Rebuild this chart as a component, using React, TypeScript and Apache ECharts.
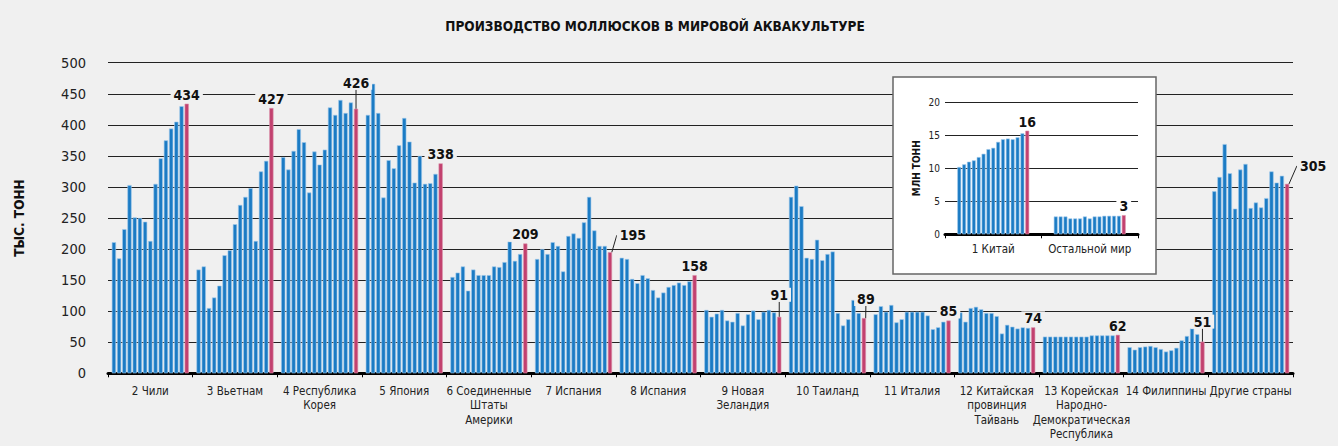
import React, { useEffect, useRef } from "react";
import * as echarts from "echarts";

const title = "ПРОИЗВОДСТВО МОЛЛЮСКОВ В МИРОВОЙ АКВАКУЛЬТУРЕ";
const yName = "ТЫС. ТОНН";
const insetYName = "МЛН ТОНН";

const categories = [
  "2 Чили",
  "3 Вьетнам",
  "4 Республика\nКорея",
  "5 Япония",
  "6 Соединенные\nШтаты\nАмерики",
  "7 Испания",
  "8 Испания",
  "9 Новая\nЗеландия",
  "10 Таиланд",
  "11 Италия",
  "12 Китайская\nпровинция\nТайвань",
  "13 Корейская\nНародно-\nДемократическая\nРеспублика",
  "14 Филиппины",
  "Другие страны",
];

// 15 yearly values per country (thousand tonnes), last one highlighted
const chile = [211, 185, 232, 303, 251, 250, 244, 213, 305, 346, 375, 394, 405, 430, 434];
const vietnam = [167, 172, 105, 122, 141, 190, 198, 240, 271, 284, 298, 213, 325, 342, 427];
const korea = [348, 328, 358, 393, 372, 291, 357, 336, 360, 428, 416, 440, 419, 436, 426];
const japan = [416, 466, 419, 283, 343, 330, 367, 411, 373, 307, 350, 305, 306, 321, 338];
const usa = [155, 162, 172, 133, 167, 158, 158, 158, 172, 171, 179, 212, 181, 192, 209];
const spain7 = [184, 200, 192, 211, 205, 164, 221, 225, 218, 243, 284, 230, 205, 205, 195];
const spain8 = [186, 184, 152, 145, 158, 153, 134, 122, 130, 139, 142, 146, 142, 148, 158];
const newZealand = [102, 91, 96, 102, 85, 83, 97, 77, 95, 101, 87, 99, 102, 98, 91];
const thailand = [284, 302, 269, 186, 184, 215, 182, 192, 196, 97, 77, 87, 118, 97, 89];
const italy = [95, 108, 99, 110, 82, 87, 99, 99, 99, 99, 93, 71, 74, 83, 85];
const taiwan = [98, 83, 105, 107, 103, 97, 97, 92, 64, 78, 75, 72, 74, 73, 74];
const dprk = [59, 59, 59, 59, 59, 59, 59, 59, 59, 61, 61, 61, 61, 61, 62];
const philippines = [42, 38, 42, 43, 44, 42, 39, 35, 37, 41, 53, 60, 72, 63, 51];
const others = [293, 316, 369, 322, 265, 328, 337, 266, 275, 267, 282, 325, 307, 318, 305];

const countrySeries = [chile, vietnam, korea, japan, usa, spain7, spain8, newZealand, thailand, italy, taiwan, dprk, philippines, others];
const lastLabels = ["434", "427", "426", "338", "209", "195", "158", "91", "89", "85", "74", "62", "51", "305"];

// Inset (million tonnes)
const insetCategories = ["1 Китай", "Остальной мир"];
const china = [10.2, 10.6, 11.0, 11.2, 11.7, 12.2, 12.9, 13.1, 14.0, 14.4, 14.5, 14.4, 14.7, 15.3, 15.7];
const restOfWorld = [2.7, 2.7, 2.7, 2.4, 2.4, 2.4, 2.7, 2.4, 2.7, 2.7, 2.8, 2.8, 2.8, 2.8, 2.9];
const insetLabels = ["16", "3"];

const yTicks = { min: 0, max: 500, interval: 50 };
const insetTicks = { min: 0, max: 20, interval: 5 };

// label offsets (style) for leader-line labels of the highlighted series
const labelShift: Record<number, [number, number]> = {
  2: [0, -17],
  5: [23, -8],
  7: [0, -13],
  8: [2, -10],
  12: [0, -11],
  13: [26, -9],
};

const BLUE = "#1b7bc4";
const PINK = "#c2416f";
const BLUE_EDGE = "#9fcaec";
const PINK_EDGE = "#dc93ad";
const BG = "#f0f0f0";
const FONT = "'Liberation Sans Narrow', 'DejaVu Sans Condensed', 'Roboto Condensed', 'Arial Narrow', sans-serif";

export default function App() {
  const ref = useRef<HTMLDivElement>(null);
  useEffect(() => {
    document.body.style.margin = "0";
    const chart = echarts.init(ref.current!, null, { renderer: "svg" });
    const nYears = china.length;
    const series: any[] = [];
    for (let j = 0; j < nYears; j++) {
      const last = j === nYears - 1;
      series.push({
        type: "bar",
        xAxisIndex: 0,
        yAxisIndex: 0,
        z: 2,
        barCategoryGap: "9%",
        barGap: "24%",
        itemStyle: { color: last ? PINK : BLUE, borderColor: last ? PINK_EDGE : BLUE_EDGE, borderWidth: 0.6 },
        data: countrySeries.map((c, i) =>
          last
            ? { value: Number(lastLabels[i]), labelLine: { show: !!labelShift[i] } }
            : c[j]
        ),
        label: last
          ? {
              show: true,
              position: "top",
              distance: 2,
              formatter: (p: any) => lastLabels[p.dataIndex],
              fontFamily: FONT,
              fontWeight: "bold",
              fontSize: 14,
              color: "#111",
              backgroundColor: BG,
              padding: [0, 3, 0, 3],
            }
          : { show: false },
        labelLine: last ? { show: false, lineStyle: { color: "#222", width: 1 } } : undefined,
        labelLayout: last
          ? (p: any) => {
              const s = labelShift[p.dataIndex];
              return s ? { dx: s[0], dy: s[1] } : {};
            }
          : undefined,
      });
    }
    for (let j = 0; j < nYears; j++) {
      const last = j === nYears - 1;
      series.push({
        type: "bar",
        xAxisIndex: 1,
        yAxisIndex: 1,
        z: 12,
        barCategoryGap: "25.5%",
        barGap: "25%",
        itemStyle: { color: last ? PINK : BLUE, borderColor: last ? PINK_EDGE : BLUE_EDGE, borderWidth: 0.6 },
        data: [china[j], restOfWorld[j]],
        label: last
          ? {
              show: true,
              position: "top",
              distance: 2,
              formatter: (p: any) => insetLabels[p.dataIndex],
              fontFamily: FONT,
              fontWeight: "bold",
              fontSize: 14,
              color: "#111",
              backgroundColor: "#fff",
              padding: [0, 3, 0, 3],
            }
          : { show: false },
      });
    }

    const option: any = {
      animation: false,
      backgroundColor: BG,
      title: {
        text: title,
        left: 650,
        top: 14,
        textAlign: "center",
        textStyle: { fontFamily: FONT, fontWeight: "bold", fontSize: 13.5, color: "#111" },
      },
      graphic: [
        {
          type: "rect",
          z: 10,
          shape: { x: 893, y: 77, width: 263, height: 197 },
          style: { fill: "#fff", stroke: "#666", lineWidth: 1.5 },
        },
      ],
      grid: [
        { left: 108, right: 45, top: 62.7, bottom: 72.7 },
        { left: 945, right: 200, top: 102.3, bottom: 211.7 },
      ],
      xAxis: [
        {
          type: "category",
          gridIndex: 0,
          data: categories,
          axisLine: { lineStyle: { color: "#000", width: 3 } },
          axisTick: { show: true, length: 4, interval: 0, lineStyle: { color: "#000", width: 1 } },
          axisLabel: { interval: 0, fontFamily: FONT, fontSize: 11.5, lineHeight: 14.5, color: "#222", margin: 10 },
        },
        {
          type: "category",
          gridIndex: 1,
          z: 11,
          data: insetCategories,
          axisLine: { lineStyle: { color: "#000", width: 3 } },
          axisTick: { show: true, length: 4, interval: 0, lineStyle: { color: "#000", width: 1 } },
          axisLabel: { interval: 0, fontFamily: FONT, fontSize: 11.5, color: "#222", margin: 9 },
        },
      ],
      yAxis: [
        {
          type: "value",
          gridIndex: 0,
          min: yTicks.min,
          max: yTicks.max,
          interval: yTicks.interval,
          axisLine: { show: false },
          axisTick: { show: false },
          splitLine: { lineStyle: { color: "#222", width: 1 } },
          axisLabel: { fontFamily: FONT, fontSize: 14.5, color: "#222", margin: 22 },
          name: yName,
          nameLocation: "middle",
          nameGap: 82,
          nameTextStyle: { fontFamily: FONT, fontWeight: "bold", fontSize: 13.5, color: "#111" },
        },
        {
          type: "value",
          gridIndex: 1,
          z: 11,
          min: insetTicks.min,
          max: insetTicks.max,
          interval: insetTicks.interval,
          axisLine: { show: false },
          axisTick: { show: false },
          splitLine: { lineStyle: { color: "#222", width: 1 } },
          axisLabel: { fontFamily: FONT, fontSize: 10, color: "#222", margin: 5 },
          name: insetYName,
          nameLocation: "middle",
          nameGap: 24,
          nameTextStyle: { fontFamily: FONT, fontWeight: "bold", fontSize: 10, color: "#111" },
        },
      ],
      series,
    };
    chart.setOption(option);
    return () => chart.dispose();
  }, []);
  return (
    <div
      ref={ref}
      style={{ position: "fixed", left: 0, top: 0, width: 1338, height: 446, background: BG }}
    />
  );
}
